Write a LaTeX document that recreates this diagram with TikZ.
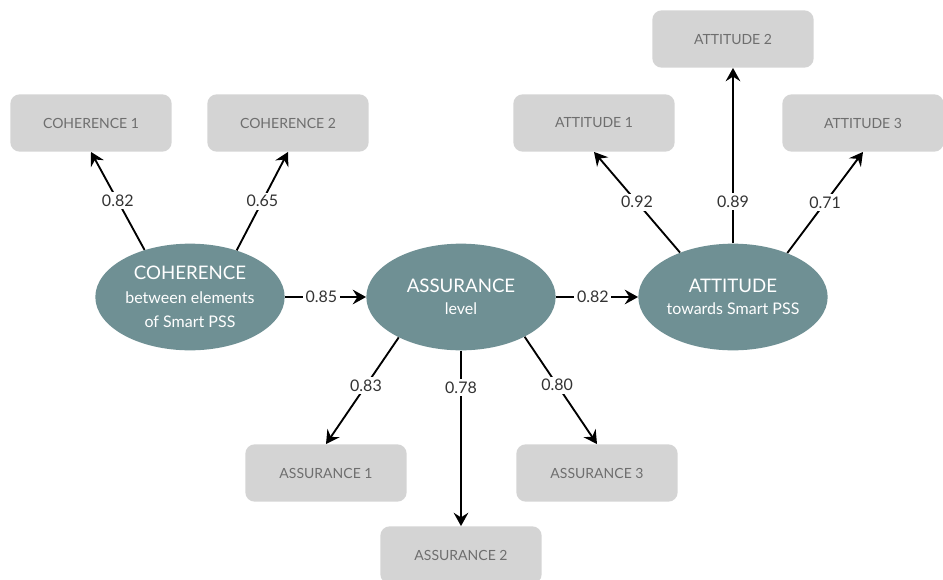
\documentclass[tikz,border=0pt]{standalone}
\usepackage{fontspec}
\setmainfont{Lato}
\usetikzlibrary{arrows.meta}
\usetikzlibrary{shapes}
\definecolor{latentfill}{HTML}{6F9094}
\definecolor{boxfill}{HTML}{D4D4D4}
\definecolor{boxtext}{HTML}{6E6E6E}
\definecolor{weighttext}{HTML}{333333}
\tikzstyle{latent}=[ellipse,fill=latentfill,minimum width=142pt,minimum height=80pt,inner sep=0pt,text=white,align=center]
\tikzstyle{indicator}=[rectangle,rounded corners=7pt,fill=boxfill,minimum width=121pt,minimum height=43pt,inner sep=0pt,text=boxtext,font=\fontsize{10.5}{12}\selectfont]
\tikzstyle{edge} = [draw,line width=1.4pt,-{Stealth[length=10pt,width=11pt,inset=3.5pt]}]
\tikzstyle{weight} = [fill=white,inner sep=2pt,text=weighttext,font=\fontsize{12}{14}\selectfont]

\begin{document}
\begin{tikzpicture}[x=0.75pt,y=0.75pt]
\useasboundingbox (0,0) rectangle (943,-579);

    % latent variables
    \node[latent] (coh) at (190,-297) {{\fontsize{14}{16}\selectfont COHERENCE}\\[6pt]{\fontsize{12}{13}\selectfont between elements}\\[6pt]{\fontsize{12}{13}\selectfont of Smart PSS}};
    \node[latent] (ass) at (461,-297) {{\fontsize{14}{16}\selectfont ASSURANCE}\\[4.5pt]{\fontsize{12}{13}\selectfont level}};
    \node[latent] (att) at (733,-297) {{\fontsize{14}{16}\selectfont ATTITUDE}\\[4.5pt]{\fontsize{12}{13}\selectfont towards Smart PSS}};

    % indicators
    \foreach \pos/\name/\label in {{(91,-123)/coh1/COHERENCE 1}, {(288,-123)/coh2/COHERENCE 2},
        {(594,-123)/att1/ATTITUDE 1}, {(733,-39)/att2/ATTITUDE 2}, {(863,-123)/att3/ATTITUDE 3},
        {(326,-473)/ass1/ASSURANCE 1}, {(461,-555)/ass2/ASSURANCE 2}, {(597,-473)/ass3/ASSURANCE 3}}
        \node[indicator] (\name) at \pos {\label};

    % loadings
    \foreach \source/\angle/\dest/\p/\weight in {coh/134/coh1/0.5/0.82, coh/45/coh2/0.5/0.65,
        att/140/att1/0.5/0.92, att/90/att2/0.24/0.89, att/39/att3/0.5/0.71}
        \path[edge] (\source.\angle) -- node[weight,pos=\p] {\weight} (\dest.south);
    \foreach \source/\angle/\dest/\p/\weight in {ass/213/ass1/0.45/0.83, ass/270/ass2/0.21/0.78, ass/328/ass3/0.45/0.80}
        \path[edge] (\source.\angle) -- node[weight,pos=\p] {\weight} (\dest.north);

    % paths between latent variables
    \foreach \source/\dest/\weight in {coh/ass/0.85, ass/att/0.82}
        \path[edge] (\source) -- node[weight,pos=0.45] {\weight} (\dest);

\end{tikzpicture}
\end{document}
